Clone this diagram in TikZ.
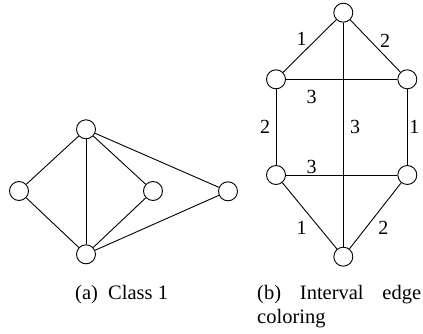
\documentclass[tikz,border=0pt]{standalone}
\usepackage{fontspec}
\setmainfont{Liberation Serif}
\newfontfamily\figserif{Liberation Serif}
\begin{document}
\begin{tikzpicture}[x=1pt,y=-1pt,
  vtx/.style={circle,draw,line width=0.9pt,minimum size=19pt,inner sep=0pt,fill=white},
  edg/.style={line width=0.9pt},
  lbl/.style={inner sep=0pt,font=\figserif\fontsize{20}{24}\selectfont},
  captxt/.style={inner sep=0pt,anchor=base west,font=\figserif\fontsize{20.5}{24.6}\selectfont}]
\useasboundingbox (0,0) rectangle (423,334);
% (a) Class 1
\node[vtx] (at) at (86,129.3) {};
\node[vtx] (al) at (19,191) {};
\node[vtx] (am) at (153,191) {};
\node[vtx] (ar) at (228,191.3) {};
\node[vtx] (ab) at (86,254.3) {};
\draw[edg] (at) -- (al);
\draw[edg] (at) -- (ab);
\draw[edg] (at) -- (am);
\draw[edg] (at) -- (ar);
\draw[edg] (al) -- (ab);
\draw[edg] (am) -- (ab);
\draw[edg] (ar) -- (ab);
% (b) Interval edge coloring
\node[vtx] (bt) at (343.3,12.7) {};
\node[vtx] (bul) at (276,79.3) {};
\node[vtx] (bur) at (407.3,79.3) {};
\node[vtx] (bll) at (276,175) {};
\node[vtx] (blr) at (407.3,175) {};
\node[vtx] (bb) at (343.3,256.7) {};
\draw[edg] (bt) -- (bul);
\draw[edg] (bt) -- (bur);
\draw[edg] (bt) -- (bb);
\draw[edg] (bul) -- (bur);
\draw[edg] (bul) -- (bll);
\draw[edg] (bur) -- (blr);
\draw[edg] (bll) -- (blr);
\draw[edg] (bll) -- (bb);
\draw[edg] (blr) -- (bb);
\node[lbl] (l1) at (301.7,39.3) {1};
\node[lbl] (l2) at (385,40.7) {2};
\node[lbl] (l3) at (311.7,96.7) {3};
\node[lbl] (l4) at (265,127.3) {2};
\node[lbl] (l5) at (355,127.3) {3};
\node[lbl] (l6) at (414.3,127.3) {1};
\node[lbl] (l7) at (311.7,166.7) {3};
\node[lbl] (l8) at (301.7,228.3) {1};
\node[lbl] (l9) at (383.3,228.3) {2};
% captions
\node[captxt] (ca) at (75,299) {(a)\ \ Class 1};
\node[captxt] (cb) at (257,299) {\parbox[t]{164pt}{(b)\hfill Interval\hfill edge\\coloring}};
\end{tikzpicture}
\end{document}
